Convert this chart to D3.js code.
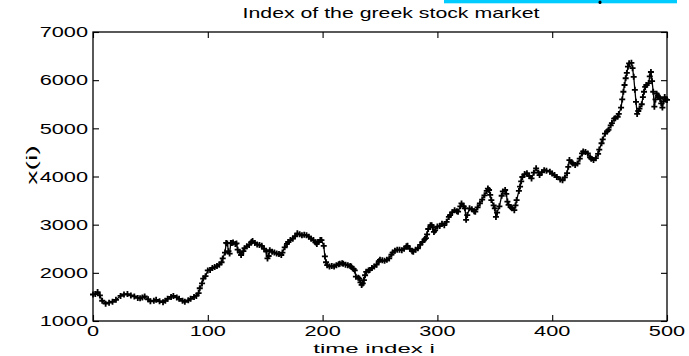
<!DOCTYPE html>
<html>
<head>
<meta charset="utf-8">
<script src="https://cdn.jsdelivr.net/npm/d3@7"></script>
<style>
  html, body { margin: 0; padding: 0; background: #fff; }
  svg { display: block; }
  text { font-family: "Liberation Sans", Arial, Helvetica, sans-serif; fill: #000; }
</style>
</head>
<body>
<svg id="chart" width="689" height="356"></svg>
<script>
// Athens stock exchange general index, sampled time steps
const timeIndex = [
  0,2,4,6,8,11,14,17,20,24,27,30,33,36,39,41,43,45,48,50,53,55,58,61,63,65,68,70,73,75,78,80,83,85,88,90,92,93,95,96,98,
  100,102,104,106,108,110,112,113,115,116,117,118,119,120,121,122,124,125,126,128,129,131,132,134,136,138,139,141,143,145,147,149,
  151,152,153,154,156,158,160,162,164,165,167,169,170,172,174,176,178,180,182,184,186,188,190,192,194,195,196,198,199,
  201,202,203,204,206,208,210,212,214,215,217,218,220,222,224,225,227,228,229,231,232,233,234,235,236,237,238,240,241,243,245,247,249,
  250,252,254,256,258,260,261,263,265,267,269,271,273,274,276,278,279,281,283,285,287,289,290,291,292,294,295,296,297,298,
  300,302,304,306,308,310,311,313,315,317,318,320,321,323,324,325,326,328,330,332,333,335,337,339,341,343,344,345,346,347,349,
  350,351,352,354,356,357,359,360,361,362,364,365,367,368,369,371,372,373,374,376,378,380,382,384,386,388,389,391,393,395,398,
  400,402,404,407,409,411,413,414,415,417,418,420,422,424,426,427,429,431,433,434,436,438,440,441,443,444,446,448,449,
  451,452,454,455,457,458,460,461,462,463,464,465,466,467,469,470,471,472,473,474,475,476,478,479,480,481,482,484,485,486,487,488,489,
  490,491,492,493,494,495,496,497,498,499,500
];
const indexValue = [
  1550,1560,1600,1530,1420,1360,1380,1400,1440,1520,1550,1560,1530,1510,1480,1470,1490,1510,1450,1410,1420,1440,1410,1390,1420,1460,1500,1520,1490,1460,1420,1400,1430,1460,1500,1520,1580,1680,1780,1880,1930,
  2050,2060,2100,2120,2140,2170,2220,2300,2420,2620,2610,2450,2400,2620,2620,2630,2600,2610,2480,2420,2370,2450,2510,2550,2580,2640,2660,2620,2590,2580,2560,2500,
  2440,2300,2350,2470,2440,2420,2400,2390,2370,2420,2530,2600,2640,2680,2710,2760,2820,2800,2780,2790,2780,2750,2710,2680,2630,2600,2640,2680,2680,
  2560,2340,2220,2160,2130,2140,2130,2160,2180,2190,2200,2190,2170,2160,2140,2130,2080,2050,1920,1900,1880,1800,1750,1780,1850,1950,2020,2050,2060,2100,2130,2170,2240,
  2270,2260,2250,2270,2300,2380,2420,2460,2480,2480,2470,2500,2550,2560,2500,2450,2440,2480,2510,2580,2640,2700,2720,2800,2910,2990,2990,2950,2850,2880,
  2960,2970,3020,2990,3060,3160,3200,3260,3300,3280,3270,3380,3440,3380,3340,3100,3200,3340,3320,3280,3270,3360,3440,3520,3610,3700,3750,3720,3620,3510,3400,
  3340,3160,3250,3380,3600,3690,3720,3640,3480,3410,3360,3340,3300,3400,3510,3700,3790,3900,3990,4050,4070,4010,3960,4080,4170,4080,4030,4090,4130,4120,4100,
  4060,4030,3990,3940,3920,3980,4070,4200,4340,4290,4270,4240,4270,4370,4480,4520,4510,4480,4400,4370,4340,4380,4470,4560,4690,4770,4890,4940,4970,
  5060,5110,5200,5210,5240,5300,5430,5600,5760,5900,6040,6150,6280,6350,6360,6250,6070,5800,5550,5300,5360,5410,5500,5650,5760,5860,5900,5940,6080,6170,5980,5760,5450,
  5600,5720,5680,5650,5610,5520,5430,5560,5650,5600,5590
];
const xTicks = [0, 100, 200, 300, 400, 500];
const yTicks = [1000, 2000, 3000, 4000, 5000, 6000, 7000];
const titleText = "Index of the greek stock market";
const xLabelText = "time index i";
const yLabelText = "x(i)";

const svg = d3.select("#chart");
const margin = { left: 93, right: 22, top: 32, bottom: 35 };
const W = 689, H = 356;
const x = d3.scaleLinear().domain([0, 500]).range([margin.left, W - margin.right]);
const y = d3.scaleLinear().domain([1000, 7000]).range([H - margin.bottom, margin.top]);

// strip along the top edge of the figure
svg.append("rect").attr("x", 444).attr("y", 0).attr("width", 233).attr("height", 3.3).attr("fill", "#00ccff");
svg.append("rect").attr("x", 598.5).attr("y", 0.5).attr("width", 3).attr("height", 3.5).attr("rx", 1.5).attr("fill", "#000");

const pts = timeIndex.map((t, k) => [t, indexValue[k]]);

// series line
svg.append("path")
  .datum(pts)
  .attr("fill", "none")
  .attr("stroke", "#000")
  .attr("stroke-width", 1.3)
  .attr("stroke-linejoin", "round")
  .attr("d", d3.line().x(d => x(d[0])).y(d => y(d[1])));

// '+' markers at every sample
const mk = svg.append("g").attr("stroke", "#000").attr("stroke-width", 1.8);
mk.selectAll("path").data(pts).join("path")
  .attr("d", d => {
    const cx = x(d[0]), cy = y(d[1]), r = 3;
    return `M${cx - r},${cy}H${cx + r}M${cx},${cy - r}V${cy + r}`;
  });

// axes box with inward ticks on all four sides
const tickLen = 6;
const axisG = svg.append("g").attr("stroke", "#000").attr("fill", "none");
axisG.append("rect")
  .attr("x", x(0)).attr("y", y(7000))
  .attr("width", x(500) - x(0)).attr("height", y(1000) - y(7000))
  .attr("stroke-width", 1.3);

const bottomAxis = d3.axisBottom(x).tickValues(xTicks).tickSizeInner(-tickLen).tickSizeOuter(0).tickFormat("");
const topAxis = d3.axisTop(x).tickValues(xTicks).tickSizeInner(-tickLen).tickSizeOuter(0).tickFormat("");
const leftAxis = d3.axisLeft(y).tickValues(yTicks).tickSizeInner(-tickLen).tickSizeOuter(0).tickFormat("");
const rightAxis = d3.axisRight(y).tickValues(yTicks).tickSizeInner(-tickLen).tickSizeOuter(0).tickFormat("");
[[bottomAxis, `translate(0,${y(1000)})`], [topAxis, `translate(0,${y(7000)})`],
 [leftAxis, `translate(${x(0)},0)`], [rightAxis, `translate(${x(500)},0)`]].forEach(([ax, tr]) => {
  const g = svg.append("g").attr("transform", tr).call(ax);
  g.select(".domain").remove();
  g.selectAll("line").attr("stroke", "#000").attr("stroke-width", 1.1);
});

// tick labels (wide Helvetica-like lettering)
const sx = 1.5;
svg.append("g").selectAll("text").data(xTicks).join("text")
  .attr("transform", d => `translate(${x(d)},336) scale(${sx},1)`)
  .attr("text-anchor", "middle")
  .attr("font-size", 14.5)
  .text(d => d);
svg.append("g").selectAll("text").data(yTicks).join("text")
  .attr("transform", d => `translate(88,${y(d) + 5.3}) scale(${sx},1)`)
  .attr("text-anchor", "end")
  .attr("font-size", 14.5)
  .text(d => d);

// title and axis labels
svg.append("text")
  .attr("transform", `translate(391,18.3) scale(1.42,1)`)
  .attr("text-anchor", "middle").attr("font-size", 15)
  .text(titleText);
svg.append("text")
  .attr("transform", `translate(374,352.5) scale(1.85,1)`)
  .attr("text-anchor", "middle").attr("font-size", 13)
  .text(xLabelText);
svg.append("text")
  .attr("transform", `translate(37,165) rotate(-90) scale(1.9,1)`)
  .attr("text-anchor", "middle").attr("font-size", 15)
  .text(yLabelText);
</script>
</body>
</html>
